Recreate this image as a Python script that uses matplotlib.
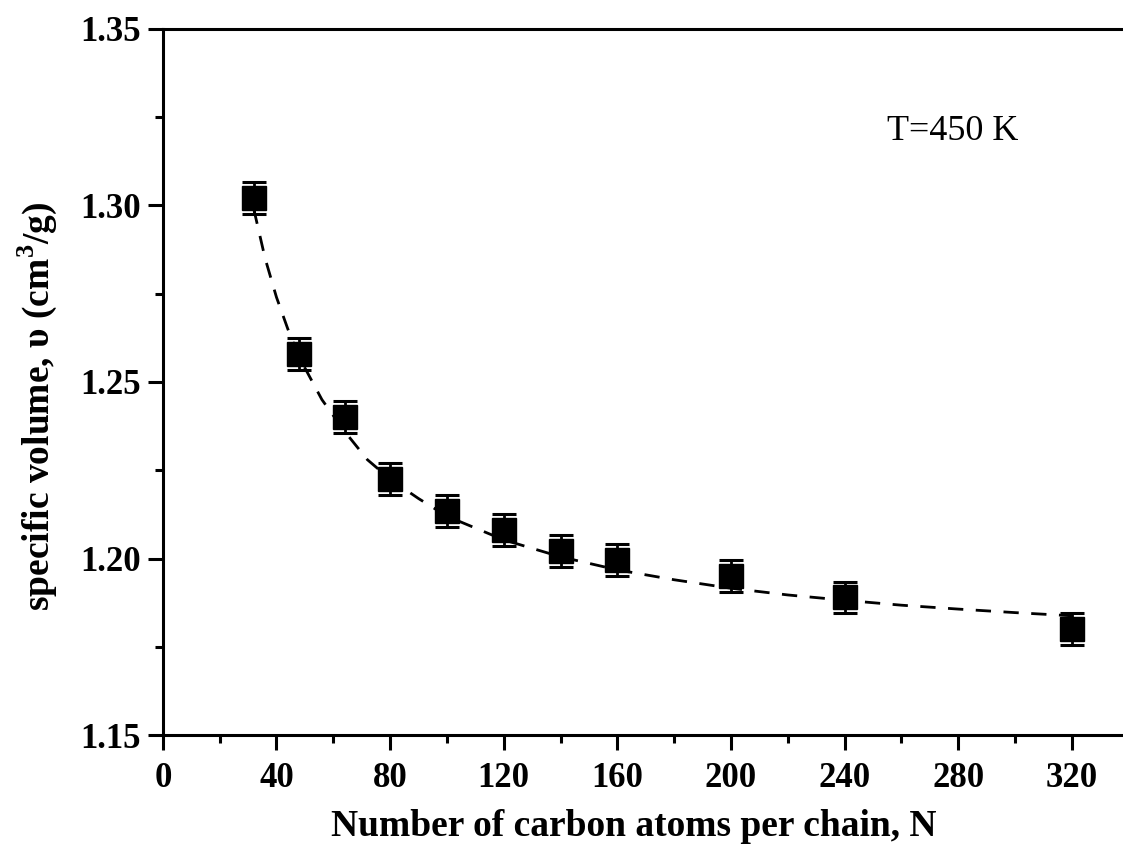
import matplotlib
matplotlib.use("Agg")
import matplotlib.pyplot as plt
from matplotlib.ticker import MultipleLocator

plt.rcParams['font.family'] = ['Liberation Serif', 'DejaVu Serif']
plt.rcParams['mathtext.fontset'] = 'custom'
plt.rcParams['mathtext.bf'] = 'Liberation Serif:bold'
plt.rcParams['mathtext.rm'] = 'Liberation Serif'

# simulation points
n_atoms = [32, 48, 64, 80, 100, 120, 140, 160, 200, 240, 320]
spec_vol = [1.302, 1.258, 1.240, 1.2225, 1.2135, 1.208, 1.2022, 1.1995, 1.195, 1.189, 1.180]
vol_err = [0.0045, 0.0045, 0.0045, 0.0045, 0.0045, 0.0045, 0.0045, 0.0045, 0.0045, 0.0045, 0.0045]

# dashed fit curve
fit_n = [32, 36, 40, 44, 48, 56, 64, 72, 80, 90, 100, 120, 140, 160, 180, 200, 220, 240, 260, 280, 300, 320]
fit_vol = [1.299, 1.285, 1.274, 1.265, 1.257, 1.245, 1.236, 1.228, 1.2225, 1.217, 1.212, 1.2053,
           1.2005, 1.1968, 1.194, 1.1916, 1.1897, 1.1882, 1.1868, 1.1857, 1.1847, 1.1838]

fig = plt.figure(figsize=(11.23, 8.46), dpi=100)
ax = fig.add_axes([0.145, 0.131, 0.855, 0.835])

ax.plot(fit_n, fit_vol, color='black', lw=2, ls=(0, (5.5, 4.5)), zorder=2)
ax.errorbar(n_atoms, spec_vol, yerr=vol_err, fmt='s', color='black', ms=17,
            elinewidth=2, capsize=8.5, capthick=2.2, zorder=3)

ax.set_xlim(0, 338)
ax.set_ylim(1.15, 1.35)
ax.xaxis.set_major_locator(MultipleLocator(40))
ax.xaxis.set_minor_locator(MultipleLocator(20))
ax.yaxis.set_major_locator(MultipleLocator(0.05))
ax.yaxis.set_minor_locator(MultipleLocator(0.025))
ax.yaxis.set_major_formatter(matplotlib.ticker.FormatStrFormatter('%.2f'))

ax.spines['right'].set_visible(False)
for s in ['left', 'bottom', 'top']:
    ax.spines[s].set_linewidth(2.2)
ax.tick_params(which='major', direction='out', length=11, width=2.2, labelsize=25, pad=5)
ax.tick_params(axis='x', which='major', pad=8)
ax.tick_params(which='minor', direction='out', length=6, width=2.2)
ax.tick_params(top=False, which='both')
for lbl in ax.get_xticklabels() + ax.get_yticklabels():
    lbl.set_fontweight('bold')

ax.set_xlabel("Number of carbon atoms per chain, N", fontsize=27, fontweight='bold')
ax.set_ylabel("specific volume, υ (cm$^{\\mathbf{3}}$/g)", fontsize=27, fontweight='bold')
ax.xaxis.set_label_coords(0.49, -0.104)
ax.yaxis.set_label_coords(-0.108, 0.465)
ax.text(255, 1.3185, "T=450 K", fontsize=26)

fig.savefig("out.png", dpi=100)
